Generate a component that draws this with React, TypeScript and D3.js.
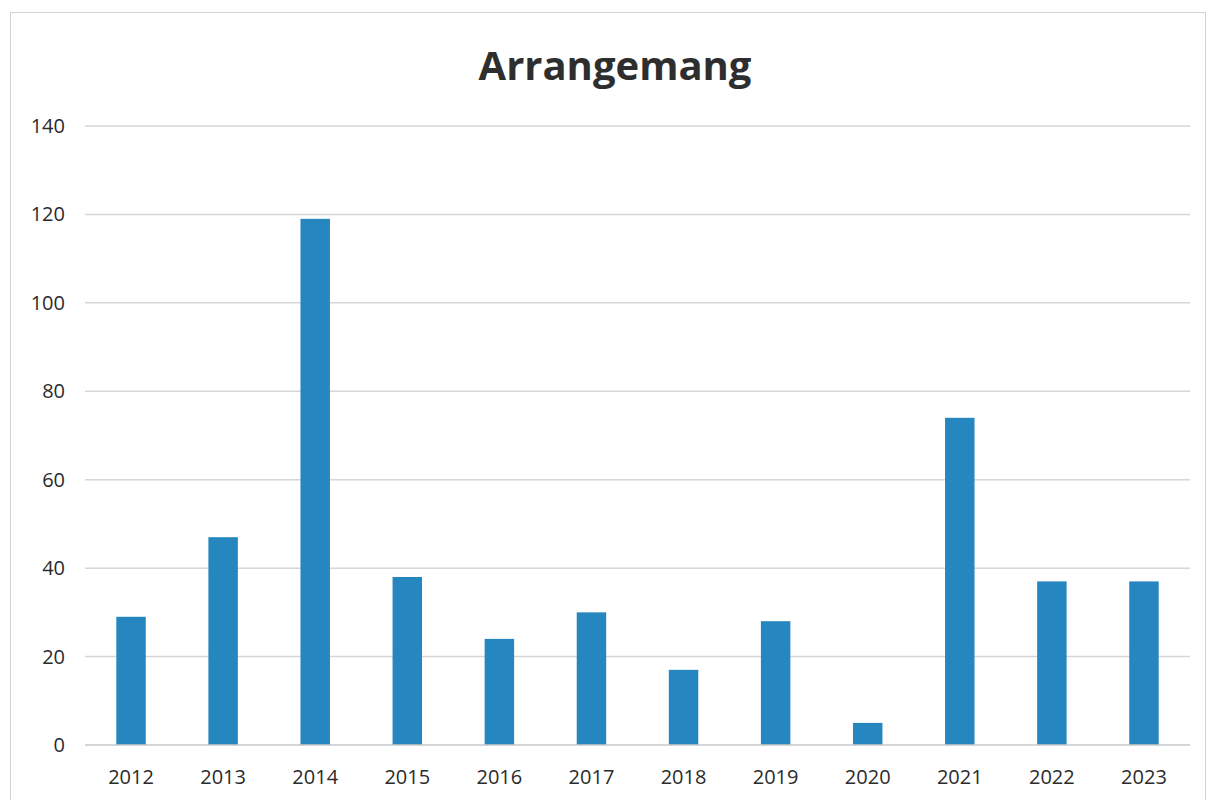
import React, { useEffect, useRef } from "react";
import * as d3 from "d3";

const years = ["2012", "2013", "2014", "2015", "2016", "2017", "2018", "2019", "2020", "2021", "2022", "2023"];
const counts = [29, 47, 119, 38, 24, 30, 17, 28, 5, 74, 37, 37];
const yTicks = [0, 20, 40, 60, 80, 100, 120, 140];

const W = 1208;
const H = 800;
const FONT = "'Open Sans', 'DejaVu Sans', sans-serif";

const App = () => {
  const ref = useRef<SVGSVGElement | null>(null);

  useEffect(() => {
    const svg = d3.select(ref.current);
    svg.selectAll("*").remove();

    svg.append("rect")
      .attr("width", W).attr("height", H).attr("fill", "#ffffff");

    // chart frame
    svg.append("rect")
      .attr("x", 10.5).attr("y", 12.5)
      .attr("width", 1195).attr("height", 800)
      .attr("fill", "none").attr("stroke", "#d4d4d4").attr("stroke-width", 1);

    const x = d3.scaleBand()
      .domain(years)
      .range([85, 1190])
      .paddingInner(0.68)
      .paddingOuter(0.34);

    const y = d3.scaleLinear()
      .domain([0, 140])
      .range([745, 126]);

    // gridlines
    svg.append("g")
      .selectAll("line")
      .data(yTicks.filter((t) => t > 0))
      .enter().append("line")
      .attr("x1", 85).attr("x2", 1190)
      .attr("y1", (d) => y(d)).attr("y2", (d) => y(d))
      .attr("stroke", "#d6d6d6").attr("stroke-width", 1.5);

    // bars
    svg.append("g")
      .selectAll("rect")
      .data(years)
      .enter().append("rect")
      .attr("x", (d) => x(d) as number)
      .attr("width", x.bandwidth())
      .attr("y", (d, i) => y(counts[i]))
      .attr("height", (d, i) => y(0) - y(counts[i]))
      .attr("fill", "#2686bf");

    // baseline
    svg.append("line")
      .attr("x1", 85).attr("x2", 1190)
      .attr("y1", y(0)).attr("y2", y(0))
      .attr("stroke", "#c8c8c8").attr("stroke-width", 1.5);

    // y labels
    svg.append("g")
      .selectAll("text")
      .data(yTicks)
      .enter().append("text")
      .attr("x", 65)
      .attr("y", (d) => y(d) + 7)
      .attr("text-anchor", "end")
      .attr("font-family", FONT)
      .attr("font-size", 20)
      .attr("fill", "#2b2b2b")
      .text((d) => d);

    // x labels
    svg.append("g")
      .selectAll("text")
      .data(years)
      .enter().append("text")
      .attr("x", (d) => (x(d) as number) + x.bandwidth() / 2)
      .attr("y", 784)
      .attr("text-anchor", "middle")
      .attr("font-family", FONT)
      .attr("font-size", 20)
      .attr("fill", "#2b2b2b")
      .text((d) => d);

    // title
    svg.append("text")
      .attr("x", 615)
      .attr("y", 80)
      .attr("text-anchor", "middle")
      .attr("font-family", FONT)
      .attr("font-weight", "bold")
      .attr("font-size", 40)
      .attr("fill", "#2e2e2e")
      .text("Arrangemang");
  }, []);

  return (
    <svg ref={ref} width={W} height={H} style={{ position: "absolute", left: 0, top: 0 }} />
  );
};

export default App;
